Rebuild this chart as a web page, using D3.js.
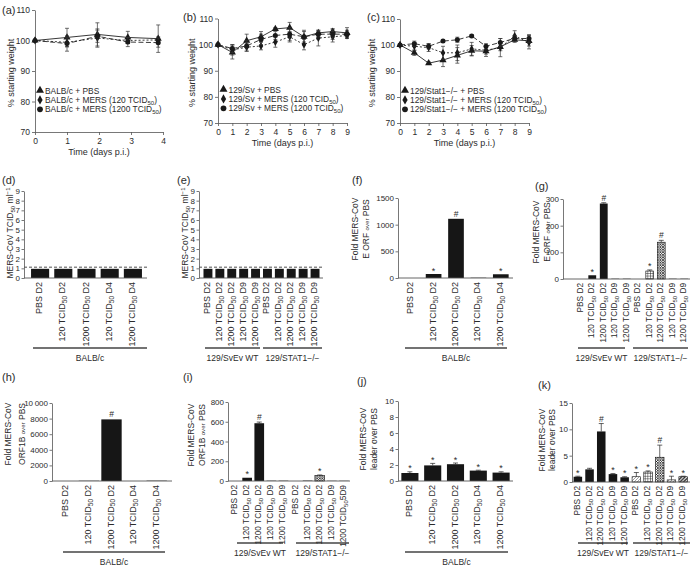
<!DOCTYPE html>
<html>
<head>
<meta charset="utf-8">
<script src="https://cdn.jsdelivr.net/npm/d3@7"></script>
<style>
body { margin: 0; background: #fff; }
svg { font-family: "Liberation Sans", Arial, sans-serif; }
</style>
</head>
<body>
<svg id="fig" width="693" height="566"></svg>
<script>
// ---------- weight curves (a)-(c) ----------
var daysA = [0, 1, 1.95, 2.9, 3.85];
var pbsA = [100, 101, 102, 101, 100.6];
var pbsAErr = [0, 3, 3.8, 2, 4.5];
var lowA = [100, 99.4, 100.8, 100, 100.2];
var lowAErr = [0, 1.5, 3, 1, 1];
var highA = [100, 99, 101.4, 99.5, 99.3];
var highAErr = [0, 2.5, 2, 1.5, 1.5];

var days9 = [0, 1, 2, 3, 4, 5, 6, 7, 8, 9];
var pbsB = [100, 97, 101.5, 103, 106, 106.5, 103, 104.5, 105, 104.5];
var pbsBErr = [0, 2.5, 2.5, 2, 0.5, 2, 2.5, 1, 1, 2];
var lowB = [100, 98, 99, 99.5, 101, 103, 100, 102.5, 103, 103.5];
var lowBErr = [0, 2, 1.5, 1.5, 2, 2, 2, 3, 2, 1];
var highB = [100, 98.5, 99.5, 102, 103.5, 104, 103, 104, 104, 104];
var highBErr = [0, 1.5, 2, 2, 1.5, 2.5, 2, 1, 2, 1.5];

var pbsC = [100, 97, 93, 94.2, 96, 97.8, 97.6, 99.3, 102, 101.6];
var pbsCErr = [0, 1, 0.5, 2.5, 3, 2, 2, 1.5, 1, 2];
var lowC = [100, 99.5, 99, 97, 97, 98.5, 98, 99, 103.5, 101];
var lowCErr = [0, 1.5, 1.5, 2.5, 3, 2.5, 1.5, 3.5, 2, 2.5];
var highC = [100, 100.5, 99.5, 101.5, 102, 103.5, 99.5, 101, 102.5, 102.5];
var highCErr = [0, 1, 1, 0.5, 1, 0.5, 1, 1.5, 1, 1.5];

var weightTicks = [70, 80, 90, 100, 110];
var legendA = ["BALB/c + PBS", "BALB/c + MERS (120 TCID_{50})", "BALB/c + MERS (1200 TCID_{50})"];
var legendB = ["129/Sv + PBS", "129/Sv + MERS (120 TCID_{50})", "129/Sv + MERS (1200 TCID_{50})"];
var legendC = ["129/Stat1\u2212/\u2212 + PBS", "129/Stat1\u2212/\u2212 + MERS (120 TCID_{50})", "129/Stat1\u2212/\u2212 + MERS (1200 TCID_{50})"];

// ---------- bar panels (d)-(k) ----------
var balbLabels = ["PBS D2", "120 TCID_{50} D2", "1200 TCID_{50} D2", "120 TCID_{50} D4", "1200 TCID_{50} D4"];
var mouseLabels = ["PBS D2", "120 TCID_{50} D2", "1200 TCID_{50} D2", "120 TCID_{50} D9", "1200 TCID_{50} D9",
                   "PBS D2", "120 TCID_{50} D2", "1200 TCID_{50} D2", "120 TCID_{50} D9", "1200 TCID_{50} D9"];
var mouseLabelsI = ["PBS D2", "120 TCID_{50} D2", "1200 TCID_{50} D2", "120 TCID_{50} D9", "1200 TCID_{50} D9",
                    "PBS D2", "120 TCID_{50} D2", "1200 TCID_{50} D2", "120 TCID_{50} D9", "1200 TCID_{50}5D9"];

var titerD = [0.95, 0.95, 0.95, 0.95, 0.95];
var titerE = [0.95, 0.95, 0.95, 0.95, 0.95, 0.95, 0.95, 0.95, 0.95, 0.95];
var limitDetect = 1.12;

var eorfF = [0, 75, 1110, 5, 70];
var eorfFMarks = ["", "*", "#", "", "*"];

var eorfG = [0, 14, 283, 1, 1, 0, 30, 138, 1, 1];
var eorfGErr = [0, 0, 3, 0, 0, 0, 4, 7, 0, 0];
var eorfGMarks = ["", "*", "#", "", "", "", "*", "#", "", ""];

var orfH = [0, 30, 7900, 0, 40];
var orfHMarks = ["", "", "#", "", ""];

var orfI = [0, 33, 585, 3, 3, 0, 4, 57, 2, 2];
var orfIErr = [0, 0, 12, 0, 0, 0, 0, 4, 0, 0];
var orfIMarks = ["", "*", "#", "", "", "", "", "*", "", ""];

var leadJ = [1.0, 1.95, 2.1, 1.3, 1.05];
var leadJErr = [0.15, 0.25, 0.15, 0.05, 0.1];
var leadJMarks = ["*", "*", "*", "*", "*"];

var leadK = [1.0, 2.4, 9.6, 1.5, 0.9, 1.0, 1.9, 4.7, 0.4, 1.0];
var leadKErr = [0.1, 0.2, 1.5, 0.1, 0.1, 0.8, 0.2, 2.3, 0.7, 0.1];
var leadKMarks = ["*", "", "#", "*", "*", "*", "*", "#", "*", "*"];

var svg = d3.select("#fig");
var ink = "#2b2b2b", axisInk = "#555";

// patterns for the STAT1 bars
var defs = svg.append("defs");
function pattern(id, w, draw) {
  var p = defs.append("pattern").attr("id", id).attr("patternUnits", "userSpaceOnUse")
    .attr("width", w).attr("height", w);
  p.append("rect").attr("width", w).attr("height", w).attr("fill", "#fff");
  draw(p, w);
}
pattern("grid", 2.6, function(p, w) {
  p.append("path").attr("d", "M0,0H" + w + "M0,0V" + w).attr("stroke", "#111").attr("stroke-width", 0.9);
});
pattern("xhatch", 2.6, function(p, w) {
  p.append("path").attr("d", "M0,0L" + w + "," + w + "M" + w + ",0L0," + w).attr("stroke", "#111").attr("stroke-width", 0.7);
});
pattern("dots", 3, function(p, w) {
  p.append("path").attr("d", "M0," + w + "L" + w + ",0").attr("stroke", "#444").attr("stroke-width", 0.5);
});
pattern("stripe", 3.5, function(p, w) {
  p.append("path").attr("d", "M-1,1L1,-1M0," + w + "L" + w + ",0M" + (w - 1) + "," + (w + 1) + "L" + (w + 1) + "," + (w - 1))
    .attr("stroke", "#111").attr("stroke-width", 1.3);
});

// text with _{sub}, ^{sup} and ~{small} pieces
function rich(sel, str, size) {
  var parts = str.split(/([_^~]\{[^}]*\})/).filter(function(p) { return p.length; });
  var shift = 0;
  parts.forEach(function(p) {
    var target = 0, txt = p, small = false;
    if (/^[_^~]\{/.test(p)) {
      txt = p.slice(2, -1);
      small = true;
      if (p[0] === "_") target = size * 0.22;
      if (p[0] === "^") target = -size * 0.4;
    }
    var t = sel.append("tspan").attr("dy", target - shift).text(txt);
    if (small) t.style("font-size", (size * 0.72) + "px");
    shift = target;
  });
  return sel;
}

function label(x, y, str, size, opts) {
  opts = opts || {};
  var t = svg.append("text").attr("fill", ink).style("font-size", size + "px")
    .attr("text-anchor", opts.anchor || "start")
    .attr("transform", "translate(" + x + "," + y + ")" + (opts.rotate ? " rotate(" + opts.rotate + ")" : ""));
  return rich(t, str, size);
}

function styleAxis(ax, size) {
  ax.attr("font-family", null).attr("font-size", null);
  ax.selectAll("text").style("font-size", size + "px").attr("fill", ink);
  ax.selectAll("line,path").attr("stroke", axisInk).attr("stroke-width", 0.8);
}

// ---------- weight panel ----------
function drawWeight(c) {
  var x = d3.scaleLinear().domain([0, c.xMax]).range([c.x0, c.x1]);
  var y = d3.scaleLinear().domain([70, 110]).range([c.yBot, c.yTop]);
  var g = svg.append("g");

  var xa = g.append("g").attr("transform", "translate(0," + c.yBot + ")")
    .call(d3.axisBottom(x).ticks(c.xMax).tickSize(3).tickSizeOuter(0).tickFormat(d3.format("d")));
  styleAxis(xa, 8.5);
  var ya = g.append("g").attr("transform", "translate(" + c.x0 + ",0)")
    .call(d3.axisLeft(y).tickValues(weightTicks).tickSize(3).tickPadding(2).tickSizeOuter(0));
  styleAxis(ya, 8.5);

  var symbols = [d3.symbolTriangle, d3.symbolDiamond, d3.symbolCircle];
  var sizes = [22, 18, 20];
  var dashes = [null, "2,2", "5,2.5"];

  c.series.forEach(function(s, k) {
    var pts = c.days.map(function(d, i) { return { x: d, m: s.mean[i], e: s.err[i] }; });
    g.append("path").datum(pts)
      .attr("d", d3.line().x(function(d) { return x(d.x); }).y(function(d) { return y(d.m); }))
      .attr("fill", "none").attr("stroke", "#222").attr("stroke-width", 0.9)
      .attr("stroke-dasharray", dashes[k]);
    var eb = g.append("g").attr("stroke", "#333").attr("stroke-width", 0.7);
    pts.filter(function(d) { return d.e > 0; }).forEach(function(d) {
      var cx = x(d.x);
      eb.append("line").attr("x1", cx).attr("x2", cx).attr("y1", y(d.m - d.e)).attr("y2", y(d.m + d.e));
      eb.append("line").attr("x1", cx - 2).attr("x2", cx + 2).attr("y1", y(d.m - d.e)).attr("y2", y(d.m - d.e));
      eb.append("line").attr("x1", cx - 2).attr("x2", cx + 2).attr("y1", y(d.m + d.e)).attr("y2", y(d.m + d.e));
    });
    g.selectAll(null).data(pts).enter().append("path")
      .attr("d", d3.symbol().type(symbols[k]).size(sizes[k]))
      .attr("transform", function(d) { return "translate(" + x(d.x) + "," + y(d.m) + ")"; })
      .attr("fill", "#1a1a1a");

    // legend row
    var ly = c.legY + k * 9.4;
    g.append("path").attr("d", d3.symbol().type(symbols[k]).size(sizes[k] + 6)())
      .attr("transform", "translate(" + c.legX + "," + ly + ")").attr("fill", "#1a1a1a");
    label(c.legX + 5, ly + 3, c.legend[k], 8.4);
  });

  label(c.ylabX, (c.yTop + c.yBot) / 2 + 2, "% starting weight", 9, { anchor: "middle", rotate: -90 });
  label((c.x0 + c.x1) / 2, c.yBot + 23, "Time (days p.i.)", 9, { anchor: "middle" });
  label(c.tagX, c.tagY, c.tag, 11);
}

drawWeight({ tag: "(a)", tagX: 2, tagY: 14, days: daysA, xMax: 4, x0: 35, x1: 163, yTop: 10, yBot: 132,
  ylabX: 14, legX: 40, legY: 90.5, legend: legendA,
  series: [{ mean: pbsA, err: pbsAErr }, { mean: lowA, err: lowAErr }, { mean: highA, err: highAErr }] });
drawWeight({ tag: "(b)", tagX: 183, tagY: 21, days: days9, xMax: 9, x0: 218, x1: 347, yTop: 18.5, yBot: 123,
  ylabX: 195, legX: 223.5, legY: 89.5, legend: legendB,
  series: [{ mean: pbsB, err: pbsBErr }, { mean: lowB, err: lowBErr }, { mean: highB, err: highBErr }] });
drawWeight({ tag: "(c)", tagX: 367, tagY: 21, days: days9, xMax: 9, x0: 400, x1: 529, yTop: 19, yBot: 123,
  ylabX: 375, legX: 405, legY: 90.5, legend: legendC,
  series: [{ mean: pbsC, err: pbsCErr }, { mean: lowC, err: lowCErr }, { mean: highC, err: highCErr }] });

// ---------- bar panel ----------
function drawBars(c) {
  var n = c.values.length;
  var x = d3.scaleBand().domain(d3.range(n)).range([c.x0, c.x1]).paddingInner(c.pad).paddingOuter(c.pad / 2);
  var y = d3.scaleLinear().domain([0, c.yMax]).range([c.yBase, c.yTop]);
  var g = svg.append("g");

  // bars
  g.selectAll(null).data(c.values).enter().append("rect")
    .attr("x", function(d, i) { return x(i); })
    .attr("width", x.bandwidth())
    .attr("y", function(d) { return y(d); })
    .attr("height", function(d) { return c.yBase - y(d); })
    .attr("fill", function(d, i) { return c.fills && c.fills[i] ? "url(#" + c.fills[i] + ")" : "#161616"; })
    .attr("stroke", function(d, i) { return c.fills && c.fills[i] ? "#111" : "none"; })
    .attr("stroke-width", 0.6);

  // error whiskers and significance marks
  c.values.forEach(function(v, i) {
    var e = c.errs ? c.errs[i] : 0;
    var cx = x(i) + x.bandwidth() / 2;
    if (e > 0) {
      g.append("line").attr("x1", cx).attr("x2", cx).attr("y1", y(v)).attr("y2", y(v + e))
        .attr("stroke", "#222").attr("stroke-width", 0.7);
      g.append("line").attr("x1", cx - 2.5).attr("x2", cx + 2.5).attr("y1", y(v + e)).attr("y2", y(v + e))
        .attr("stroke", "#222").attr("stroke-width", 0.7);
    }
    if (c.marks && c.marks[i]) {
      g.append("text").attr("x", cx).attr("y", y(v + e) - (c.marks[i] === "*" ? 0.5 : 2))
        .attr("text-anchor", "middle").attr("fill", ink)
        .style("font-size", (c.marks[i] === "*" ? 9 : 8.5) + "px").text(c.marks[i]);
    }
    // rotated category label
    label(cx + 2, c.yBase + 4, c.labels[i], c.labelSize, { anchor: "end", rotate: -90 });
  });

  if (c.limit) {
    g.append("line").attr("x1", c.axisX).attr("x2", c.xEnd).attr("y1", y(c.limit)).attr("y2", y(c.limit))
      .attr("stroke", "#222").attr("stroke-width", 0.8).attr("stroke-dasharray", "3,2");
  }

  var ya = g.append("g").attr("transform", "translate(" + c.axisX + ",0)")
    .call(d3.axisLeft(y).tickValues(c.ticks).tickSize(2.5).tickPadding(1.5).tickSizeOuter(0)
      .tickFormat(function(d) { return d >= 10000 ? d3.format(",")(d).replace(",", "\u2009") : d; }));
  styleAxis(ya, 8);
  g.append("line").attr("x1", c.axisX).attr("x2", c.xEnd).attr("y1", c.yBase).attr("y2", c.yBase)
    .attr("stroke", axisInk).attr("stroke-width", 0.9);

  // group brackets
  c.groups.forEach(function(gr) {
    g.append("line").attr("x1", gr.from).attr("x2", gr.to).attr("y1", c.groupY).attr("y2", c.groupY)
      .attr("stroke", "#444").attr("stroke-width", 1.4);
    label((gr.from + gr.to) / 2, c.groupY + 13, gr.name, 8.5, { anchor: "middle" });
  });

  c.ylab.forEach(function(t, k) {
    label(c.ylabX[k], c.ylabY, t, 8.5, { anchor: "middle", rotate: -90 });
  });
  label(c.tagX, c.tagY, c.tag, 11);
}

var balb = function(a, b) { return [{ name: "BALB/c", from: a, to: b }]; };
var strains = function(a, b, c2, d) {
  return [{ name: "129/SvEv WT", from: a, to: b }, { name: "129/STAT1\u2212/\u2212", from: c2, to: d }];
};

drawBars({ tag: "(d)", tagX: 2, tagY: 184, values: titerD, labels: balbLabels, labelSize: 9,
  x0: 28.5, x1: 144.5, pad: 0.22, axisX: 24, xEnd: 147, yBase: 278, yTop: 191, yMax: 9,
  ticks: d3.range(0, 10), limit: limitDetect, groups: balb(33, 147), groupY: 348,
  ylab: ["MERS-CoV  TCID_{50} ml^{\u22121}"], ylabX: [13], ylabY: 233 });

drawBars({ tag: "(e)", tagX: 177, tagY: 184, values: titerE, labels: mouseLabels, labelSize: 9,
  x0: 202, x1: 321, pad: 0.25, axisX: 199, xEnd: 323, yBase: 278, yTop: 191, yMax: 9,
  ticks: d3.range(0, 10), limit: limitDetect, groups: strains(205, 260, 263, 322), groupY: 348,
  ylab: ["MERS-CoV  TCID_{50} ml^{\u22121}"], ylabX: [188], ylabY: 233 });

drawBars({ tag: "(f)", tagX: 352, tagY: 184, values: eorfF, marks: eorfFMarks, labels: balbLabels, labelSize: 9,
  x0: 400, x1: 512, pad: 0.3, axisX: 398, xEnd: 513, yBase: 278, yTop: 198, yMax: 1500,
  ticks: [0, 500, 1000, 1500], groups: balb(405, 507), groupY: 348,
  ylab: ["Fold MERS-CoV", "E ORF ~{over} PBS"], ylabX: [358, 369], ylabY: 229 });

drawBars({ tag: "(g)", tagX: 535, tagY: 190, values: eorfG, errs: eorfGErr, marks: eorfGMarks,
  fills: [null, null, null, null, null, null, "grid", "xhatch", null, null],
  labels: mouseLabels, labelSize: 8.3,
  x0: 575, x1: 690, pad: 0.32, axisX: 563, xEnd: 690, yBase: 279, yTop: 199, yMax: 300,
  ticks: [0, 100, 200, 300], groups: strains(578, 625, 633, 688), groupY: 348,
  ylab: ["Fold MERS-CoV", "E ORF ~{over} PBS"], ylabX: [539, 550], ylabY: 232 });

drawBars({ tag: "(h)", tagX: 2, tagY: 381, values: orfH, marks: orfHMarks, labels: balbLabels, labelSize: 9,
  x0: 55, x1: 168, pad: 0.1, axisX: 52, xEnd: 172, yBase: 481, yTop: 403, yMax: 10000,
  ticks: [0, 2000, 4000, 6000, 8000, 10000], groups: balb(63, 165), groupY: 552,
  ylab: ["Fold MERS-CoV", "ORF1B ~{over} PBS"], ylabX: [11, 25], ylabY: 434 });

drawBars({ tag: "(i)", tagX: 183, tagY: 381, values: orfI, errs: orfIErr, marks: orfIMarks,
  fills: [null, null, null, null, null, null, null, "xhatch", null, null],
  labels: mouseLabelsI, labelSize: 8.3,
  x0: 229, x1: 350, pad: 0.2, axisX: 228, xEnd: 350, yBase: 481, yTop: 402, yMax: 800,
  ticks: [0, 200, 400, 600, 800], groups: strains(237, 283, 296, 349), groupY: 543,
  ylab: ["Fold MERS-CoV", "ORF1B ~{over} PBS"], ylabX: [194, 205], ylabY: 435 });

drawBars({ tag: "(j)", tagX: 357, tagY: 385, values: leadJ, errs: leadJErr, marks: leadJMarks, labels: balbLabels, labelSize: 9,
  x0: 398.5, x1: 512.5, pad: 0.25, axisX: 398, xEnd: 513, yBase: 481, yTop: 401, yMax: 10,
  ticks: [0, 2, 4, 6, 8, 10], groups: balb(405, 508), groupY: 552,
  ylab: ["Fold MERS-CoV", "leader over PBS"], ylabX: [366, 377], ylabY: 439 });

drawBars({ tag: "(k)", tagX: 538, tagY: 389, values: leadK, errs: leadKErr, marks: leadKMarks,
  fills: [null, null, null, null, null, "dots", "grid", "xhatch", "dots", "stripe"],
  labels: mouseLabels, labelSize: 8.3,
  x0: 572, x1: 689, pad: 0.27, axisX: 572, xEnd: 690, yBase: 482, yTop: 403, yMax: 15,
  ticks: [0, 5, 10, 15], groups: strains(578, 628, 633, 690), groupY: 543,
  ylab: ["Fold MERS-CoV", "leader over PBS"], ylabX: [545, 555], ylabY: 440 });
</script>
</body>
</html>
